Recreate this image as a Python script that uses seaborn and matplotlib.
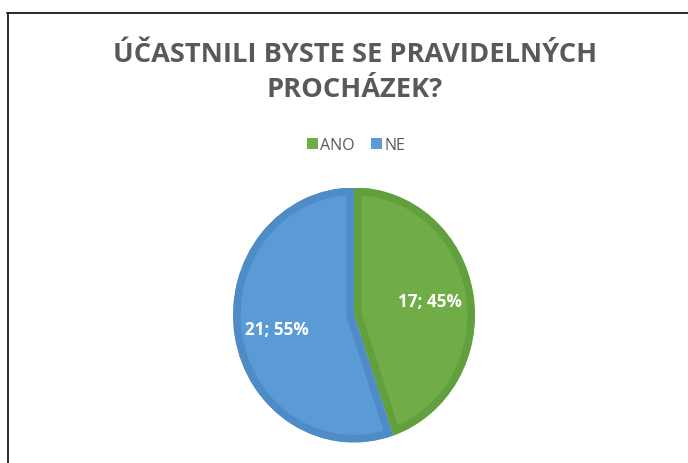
import matplotlib
matplotlib.use("Agg")
import matplotlib.pyplot as plt
import matplotlib.patches as mpatches
from matplotlib.lines import Line2D
import seaborn as sns

title_lines = ["ÚČASTNILI BYSTE SE PRAVIDELNÝCH", "PROCHÁZEK?"]
categories = ["ANO", "NE"]
values = [17, 21]
fill_colors = ["#70AD47", "#5B9BD5"]
edge_colors = ["#62A03D", "#4F8BC6"]

sns.set_theme(style="white")
plt.rcParams['font.family'] = ['Open Sans', 'DejaVu Sans']

W, H = 688, 464
fig = plt.figure(figsize=(W / 100, H / 100), dpi=100)
fig.patch.set_facecolor("white")

def fx(px):
    return px / W

def fy(py):
    return 1 - py / H

# chart border (top and left)
fig.add_artist(Line2D([fx(7), 1], [fy(13.5), fy(13.5)], color="#1a1a1a", lw=1.3,
                      transform=fig.transFigure))
fig.add_artist(Line2D([fx(7.5), fx(7.5)], [fy(13.5), 0], color="#1a1a1a", lw=1.3,
                      transform=fig.transFigure))

# title
fig.text(fx(355), fy(62), title_lines[0], ha="center", va="baseline",
         fontsize=19.6, fontweight="bold", color="#595959")
fig.text(fx(355), fy(97), title_lines[1], ha="center", va="baseline",
         fontsize=19.6, fontweight="bold", color="#595959")

# pie
cx, cy, rx, ry = 354, 316, 121, 127.5
ax = fig.add_axes([fx(cx - rx), fy(cy + ry), 2 * rx / W, 2 * ry / H])
total = sum(values)
wedges, _ = ax.pie(values, colors=fill_colors, startangle=90, counterclock=False,
                   radius=1.0, wedgeprops=dict(linewidth=11, joinstyle="miter"))
ax.set_aspect("auto")
ax.set_xlim(-1, 1)
ax.set_ylim(-1, 1)
for w, ec in zip(wedges, edge_colors):
    w.set_edgecolor(ec)
    w.set_clip_on(True)
    clip = mpatches.Wedge(w.center, w.r, w.theta1, w.theta2, transform=ax.transData)
    w.set_clip_path(clip)
ax.axis("off")

label_pos = [(430, 302), (277, 330)]
for (px, py), v in zip(label_pos, values):
    fig.text(fx(px), fy(py), f"{v}; {round(100 * v / total)}%", ha="center", va="center",
             fontsize=12.3, fontweight="bold", color="white")

# legend
handles = [mpatches.Patch(facecolor=c, edgecolor="none") for c in fill_colors]
fig.legend(handles, categories, loc="center", bbox_to_anchor=(fx(356), fy(146)),
           ncol=2, frameon=False, fontsize=11.5, labelcolor="#595959",
           handlelength=0.7, handleheight=0.7, handletextpad=0.15, columnspacing=1.0)

fig.savefig("out.png", dpi=100, facecolor="white")
